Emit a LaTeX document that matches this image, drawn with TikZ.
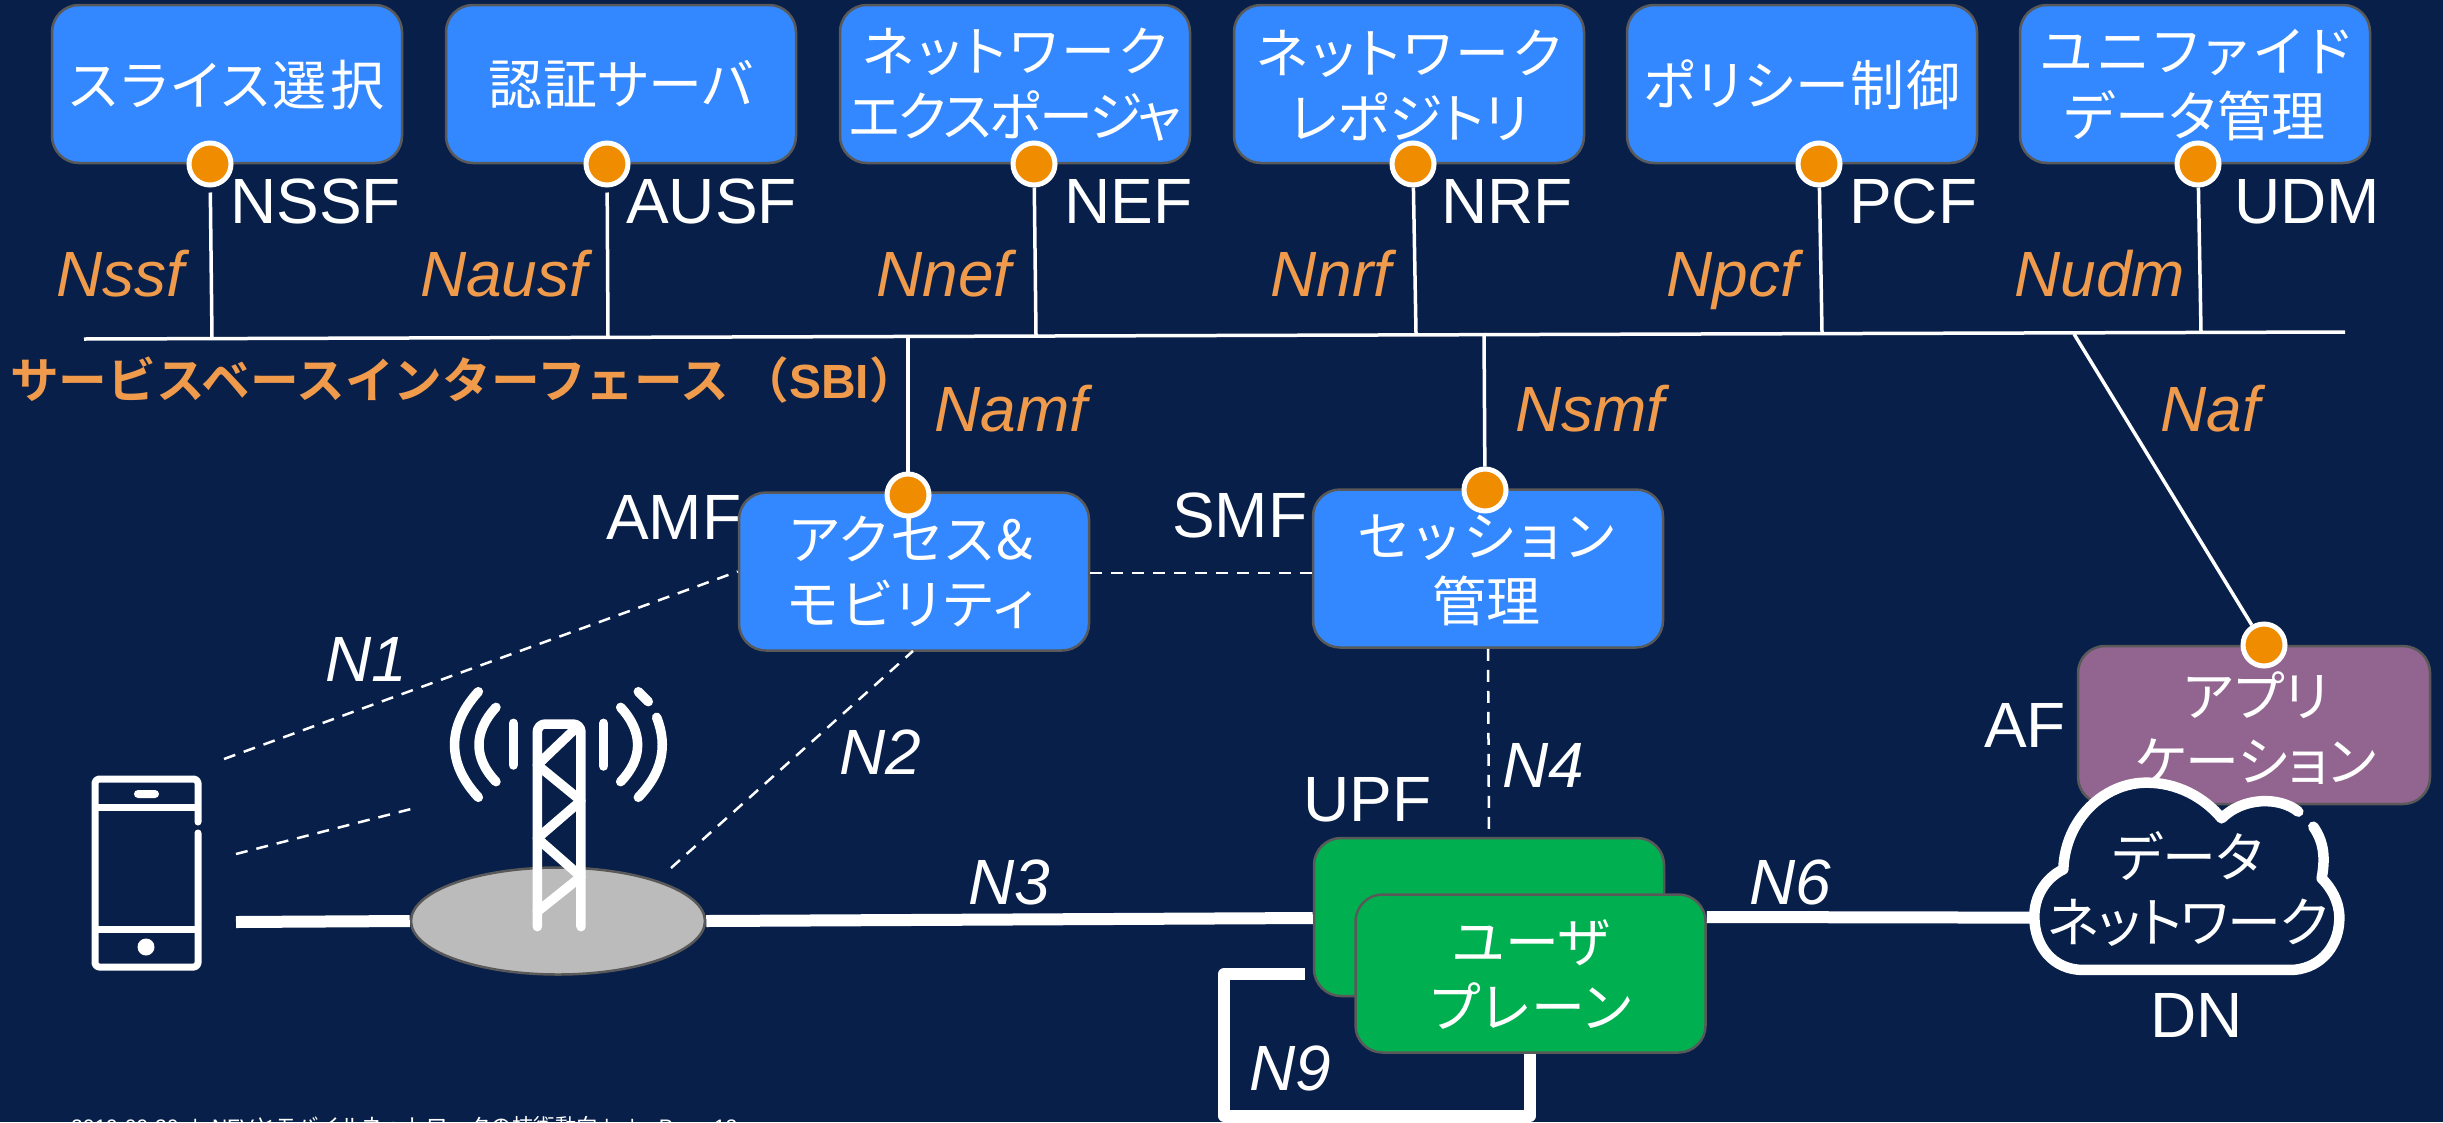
\documentclass[tikz,border=0pt]{standalone}
\usepackage{fontspec}
\setmainfont{Liberation Sans}
\newfontfamily\jp[RawFeature=+palt]{Noto Sans CJK JP}
\newfontfamily\jpn{Noto Sans CJK JP}
\newfontfamily\jpbn{Noto Sans CJK JP Bold}
\newcommand{\ls}[2]{{\addfontfeature{LetterSpace=#1}#2}}
\usetikzlibrary{shapes.geometric}
\definecolor{navy}{HTML}{071F49}
\definecolor{nfblue}{HTML}{3388FF}
\definecolor{nfgreen}{HTML}{00B050}
\definecolor{nfpurple}{HTML}{926490}
\definecolor{edgegray}{HTML}{595959}
\definecolor{nfgray}{HTML}{BBBBBB}
\definecolor{dotorange}{HTML}{F08C00}
\definecolor{txtorange}{HTML}{F09A4C}
\tikzset{
  x=1pt,y=-1pt,
  nfbox/.style={draw=edgegray,line width=2.5pt,rounded corners=27pt,fill=nfblue,minimum width=350pt,minimum height=158pt,inner sep=0pt},
  upfbox/.style={nfbox,fill=nfgreen},
  afbox/.style={nfbox,fill=nfpurple},
  jptext/.style={text=white,align=center,inner sep=0pt,font=\jp\fontsize{54}{65}\selectfont},
  lab/.style={text=white,anchor=base west,inner sep=0pt,font=\fontsize{64}{64}\selectfont},
  ilab/.style={lab,font=\itshape\fontsize{64}{64}\selectfont},
  olab/.style={ilab,text=txtorange},
  dot/.style={circle,draw=white,fill=dotorange,line width=5pt,minimum size=42pt,inner sep=0pt},
  thin line/.style={draw=white,line width=3.5pt},
  thick line/.style={draw=white,line width=12pt},
  dash line/.style={draw=white,line width=2.5pt,dash pattern=on 12pt off 9pt},
  icon/.style={draw=white,line width=9.5pt,line cap=round,line join=round},
}
\begin{document}
\begin{tikzpicture}
\fill[navy] (0,0) rectangle (2443,1122);
\clip (0,0) rectangle (2443,1122);
\useasboundingbox (0,0) rectangle (2443,1122);

% bus
\coordinate (busL) at (84,339);
\coordinate (busR) at (2345,332);
\draw[thin line] (busL) -- (busR);
\foreach \n/\x/\y in {b1/212/338,b2/608/337,b3/1036/335,b4/1416/333,b5/1822/332,b6/2201/332,bamf/908/336,bsmf/1484/333,baf/2074/334}
  \coordinate (\n) at (\x,\y);

% top boxes
\node[nfbox] (nssf) at (227,84) {};
\node[nfbox] (ausf) at (621,84) {};
\node[nfbox] (nef) at (1015,84) {};
\node[nfbox] (nrf) at (1409,84) {};
\node[nfbox] (pcf) at (1802,84) {};
\node[nfbox] (udm) at (2195,84) {};
\node[jptext] (t1) at (227,85) {\ls{6.3}{スライス選択}};
\node[jptext] (t2) at (621,85) {\ls{1}{認証サーバ}};
\node[jptext] (t3) at (1015,85) {\ls{7}{ネットワーク}\\\ls{-3.7}{エクスポージャ}};
\node[jptext] (t4) at (1409,85) {\ls{7}{ネットワーク}\\レポジトリ};
\node[jptext] (t5) at (1802,85) {\ls{3.4}{ポリシー制御}};
\node[jptext] (t6) at (2195,85) {\ls{10.6}{ユニファイド}\\\ls{1}{データ管理}};

% mid boxes
\node[nfbox] (amf) at (914,571.5) {};
\node[nfbox] (smf) at (1488,568.5) {};
\node[jptext] (t7) at (911,572) {\ls{5}{アクセス\&}\\\ls{7}{モビリティ}};
\node[jptext] (t8) at (1486,570) {\ls{11.5}{セッション}\\管理};

% dots
\node[dot] (d1) at (210,164) {};
\node[dot] (d2) at (607,164) {};
\node[dot] (d3) at (1034,164) {};
\node[dot] (d4) at (1413,164) {};
\node[dot] (d5) at (1819,164) {};
\node[dot] (d6) at (2198,164) {};
\node[dot] (damf) at (908,495) {};
\node[dot] (dsmf) at (1485,490) {};

\draw[thin line,shorten <=5pt] (d1) -- (b1);
\draw[thin line,shorten <=5pt] (d2) -- (b2);
\draw[thin line] (d3) -- (b3);
\draw[thin line] (d4) -- (b4);
\draw[thin line] (d5) -- (b5);
\draw[thin line] (d6) -- (b6);
\draw[thin line] (bamf) -- (damf);
\draw[thin line] (bsmf) -- (dsmf);

% labels
\foreach \t/\x in {NSSF/230,AUSF/626,NEF/1064,NRF/1441,PCF/1849,UDM/2234}
  \node[lab] (lab\t) at (\x,223) {\t};
\foreach \t/\x in {Nssf/56,Nausf/420,Nnef/876,Nnrf/1270,Npcf/1666,Nudm/2014}
  \node[olab] (lab\t) at (\x,296) {\t};
\node[olab] (labNamf) at (934,431) {Namf};
\node[olab] (labNsmf) at (1515,431) {Nsmf};
\node[olab] (labNaf) at (2160,431) {Naf};
\node[lab] (labAMF) at (606,539) {AMF};
\node[lab] (labSMF) at (1172,537) {SMF};
\node[lab] (labUPF) at (1303,821) {UPF};
\node[lab] (labAF) at (1984,747) {AF};
\node[lab] (labDN) at (2150,1037) {DN};
\node[ilab] (labN1) at (325,681) {N1};
\node[ilab] (labN2) at (839,774) {N2};
\node[ilab] (labN3) at (968,904) {N3};
\node[ilab] (labN4) at (1502,787) {N4};
\node[ilab] (labN6) at (1749,904) {N6};
\node[ilab] (labN9) at (1249,1090) {N9};

\node[anchor=base west,inner sep=0pt,text=txtorange] (sbi) at (10,398)
  {\jpbn\fontsize{48.7}{50}\selectfont サービスベースインターフェース\hspace{11pt}（{\normalfont\bfseries\fontsize{48}{50}\selectfont SBI}）};

% AF
\node[afbox,minimum width=352pt] (af) at (2254,725) {};
\node[jptext] (t9) at (2256,728) {アプリ\\ケーション};
\node[dot] (daf) at (2264,645) {};
\draw[thin line] (baf) -- (daf);

% dashed
\coordinate (ue1) at (224,759);
\coordinate (ue2) at (236,854);
\coordinate (gnbR) at (411,809);
\coordinate (gnbN2) at (671,868);
\draw[dash line] (ue1) -- (amf.west);
\draw[dash line] (ue2) -- (gnbR);
\draw[dash line] (gnbN2) -- (913,651);
\draw[dash line] (amf.east|-0,573) -- (smf.west|-0,573);

% ellipse, thick lines
\coordinate (ueR) at (236,922);
\node[ellipse,draw=edgegray,line width=2.5pt,fill=nfgray,minimum width=294pt,minimum height=107pt,inner sep=0pt] (gnb) at (558,921) {};
\draw[thick line] (ueR) -- (gnb.west);

% UPF
\node[upfbox] (upf1) at (1489,917) {};
\draw[dash line] (smf.south) -- (upf1.north);
\draw[thick line] (gnb.east) -- (upf1.west|-0,918);
\draw[thick line,line join=round] (1305,974) -- (1224,974) -- (1224,1116) -- (1530,1116) -- (1530,1040);
\node[upfbox] (upf2) at (1530.5,973.5) {};
\node[jptext] (t10) at (1531,975) {ユーザ\\\ls{3.6}{プレーン}};

% cloud
\begin{scope}[shift={(1950,600)},x=0.3333pt,y=-0.3333pt]
  \fill[navy] (340,808) .. controls (345,660) and (460,548) .. (590,548) .. controls (680,548) and (760,590) .. (815,655)
    .. controls (880,590) and (990,590) .. (1045,635) -- (1090,680) .. controls (1125,730) and (1125,780) .. (1115,835)
    .. controls (1160,880) and (1170,930) .. (1168,960) .. controls (1165,1050) and (1100,1110) .. (1020,1110) -- (400,1110)
    .. controls (310,1110) and (253,1040) .. (253,950) .. controls (253,890) and (285,835) .. (340,808) -- cycle;
  \draw[draw=white,line width=10.5pt,line cap=round,line join=round]
    (1045,635) .. controls (990,590) and (880,590) .. (815,655) .. controls (760,590) and (680,548) .. (590,548)
    .. controls (460,548) and (345,660) .. (340,808) .. controls (285,835) and (253,890) .. (253,950)
    .. controls (253,1040) and (310,1110) .. (400,1110) -- (1020,1110) .. controls (1100,1110) and (1165,1050) .. (1168,960)
    .. controls (1170,930) and (1160,880) .. (1115,835) .. controls (1125,780) and (1125,730) .. (1090,680);
  \coordinate (cloudW) at (253,953);
\end{scope}
\draw[thick line] (upf2.east|-0,917) -- (cloudW);
\node[jptext] (t11) at (2188,889) {データ\\\ls{-2}{ネットワーク}};

% phone
\draw[draw=white,line width=7pt,line join=round,line cap=round,rounded corners=4pt]
  (198,822) -- (198,779) -- (95,779) -- (95,967) -- (198,967) -- (198,833);
\draw[draw=white,line width=7pt] (95,807) -- (198,807);
\draw[draw=white,line width=7pt] (95,929) -- (198,929);
\fill[white,rounded corners=4pt] (134,790) rectangle (159,798);
\fill[white] (146,947) circle (8.5);

% tower
\begin{scope}[shift={(420,660)},x=0.3333pt,y=-0.3333pt]
  \draw[icon,rounded corners=8pt] (352,800) -- (352,192) -- (483,192) -- (483,800);
  \draw[icon] (467,205) -- (352,315) -- (483,422) -- (352,535) -- (483,650) -- (352,755);
  \draw[icon] (175,95) .. controls (80,200) and (80,310) .. (175,412);
  \draw[icon] (228,142) .. controls (160,215) and (160,295) .. (228,365);
  \draw[icon] (280,190) -- (280,315);
  \draw[icon] (551,190) -- (551,318);
  \draw[icon] (602,142) .. controls (670,215) and (670,295) .. (602,365);
  \draw[icon] (655,95) -- (685,125);
  \draw[icon] (710,172) .. controls (745,260) and (725,340) .. (655,412);
\end{scope}

% footer
\node[anchor=base west,inner sep=0pt,text=white] (foot) at (71,1134)
  {\fontsize{21}{21}\selectfont 2019-09-30\hspace{14pt}|\hspace{14pt}NFV{\jpn\fontsize{21.5}{21}\selectfont とモバイルネットワークの技術動向}\hspace{6pt}|\hspace{20pt}|\hspace{24pt}Page 12};
\end{tikzpicture}
\end{document}
